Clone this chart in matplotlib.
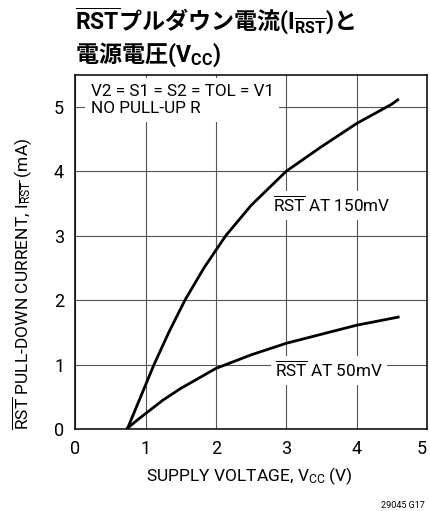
import matplotlib
matplotlib.use("Agg")
import matplotlib.pyplot as plt

LATIN = "Roboto"
CJK = "Noto Sans CJK JP"

plt.rcParams.update({
    "font.family": [LATIN, CJK],
    "mathtext.fontset": "custom",
    "mathtext.rm": LATIN,
    "mathtext.it": LATIN,
    "mathtext.bf": LATIN + ":bold",
    "axes.linewidth": 1.1,
})

# --- data -----------------------------------------------------------------------
v_150 = [0.74, 1.12, 1.33, 1.56, 1.83, 2.14, 2.50, 3.00, 3.50, 4.00, 4.50, 4.60]
i_150 = [0.00, 1.00, 1.50, 2.00, 2.50, 3.00, 3.47, 4.00, 4.38, 4.74, 5.04, 5.12]
v_50 = [0.73, 0.85, 1.00, 1.25, 1.50, 2.00, 2.50, 3.00, 3.50, 4.00, 4.61]
i_50 = [0.00, 0.11, 0.24, 0.45, 0.63, 0.94, 1.15, 1.33, 1.47, 1.61, 1.74]
x_ticks = [0, 1, 2, 3, 4, 5]
y_ticks = [0, 1, 2, 3, 4, 5]

fig = plt.figure(figsize=(4.30, 5.11), dpi=100)
ax = fig.add_axes([0.175, 0.1605, 0.818, 0.6937])
ax.set_xlim(0, 5)
ax.set_ylim(0, 5.5)
ax.set_xticks(x_ticks)
ax.set_yticks(y_ticks)
ax.tick_params(length=0, labelsize=13, pad=8)
ax.get_xticklabels()[-1].set_ha("right")
ax.grid(True, color="#555555", lw=0.8)
ax.set_axisbelow(True)

ax.plot(v_150, i_150, color="black", lw=2.0, solid_capstyle="butt", zorder=3)
ax.plot(v_50, i_50, color="black", lw=2.0, solid_capstyle="butt", zorder=3)

wbox = dict(facecolor="white", edgecolor="none", pad=3)
ax.text(0.22, 5.36, "V2 = S1 = S2 = TOL = V1\nNO PULL-UP R", fontsize=12.3,
        va="top", ha="left", linespacing=1.2, zorder=4,
        bbox=dict(facecolor="white", edgecolor="none", pad=4))
ax.text(2.81, 3.47, r"$\overline{\mathrm{RST}}$ AT 150mV", fontsize=12.3,
        va="center", ha="left", zorder=4, bbox=wbox)
ax.text(2.84, 0.91, r"$\overline{\mathrm{RST}}$ AT 50mV", fontsize=12.3,
        va="center", ha="left", zorder=4, bbox=wbox)

fig.text(22 / 430, 1 - 284 / 511,
         r"$\overline{\mathrm{RST}}$ PULL-DOWN CURRENT, I$_{\overline{\mathrm{RST}}}$ (mA)",
         rotation=90, ha="center", va="center", fontsize=12.5)
fig.text(249 / 430, 1 - 476 / 511, r"SUPPLY VOLTAGE, V$_{\mathrm{CC}}$ (V)",
         ha="center", va="center", fontsize=12.5)
fig.text(425 / 430, 1 - 505 / 511, "29045 G17", ha="right", va="center",
         fontsize=6.5)

tfont = dict(family=[CJK, "DejaVu Sans"], weight="bold", fontsize=16.6)
fig.text(75 / 430, 1 - 30 / 511,
         r"$\overline{\mathbf{RST}}$プルダウン電流$\mathbf{(I}_{\overline{\mathbf{RST}}}\mathbf{)}$と",
         ha="left", va="baseline", **tfont)
fig.text(75 / 430, 1 - 62 / 511, r"電源電圧$\mathbf{(V}_{\mathbf{CC}}\mathbf{)}$",
         ha="left", va="baseline", **tfont)

fig.savefig("out.png", dpi=100)
